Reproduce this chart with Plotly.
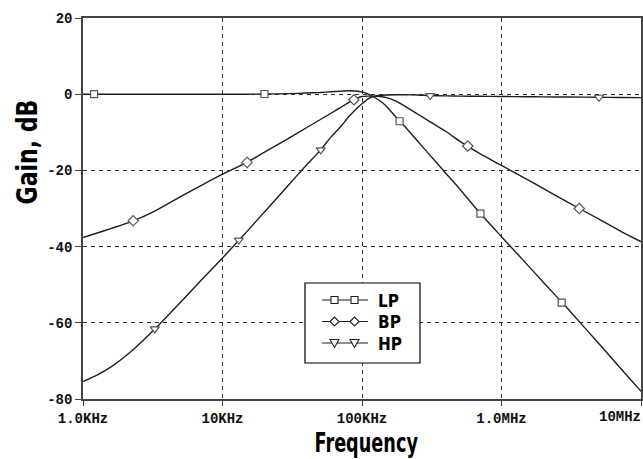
import plotly.graph_objects as go

# ---------------- data ----------------
freq_hz = [1e3, 1.25e3, 1.6e3, 2.2e3, 3.3e3, 5e3, 7e3, 1e4, 1.5e4, 2e4, 3e4, 4e4,
           5e4, 6e4, 7e4, 8e4, 9e4, 1e5, 1.1e5, 1.2e5, 1.35e5, 1.5e5, 1.75e5, 2e5,
           2.5e5, 3e5, 4e5, 5e5, 7e5, 1e6, 1.5e6, 2e6, 3e6, 5e6, 7e6, 1e7]
lp_db = [0, 0, 0, 0, 0, 0, 0, 0, 0, 0.05, 0.15, 0.3,
         0.45, 0.65, 0.8, 0.9, 0.85, 0.6, 0.1, -0.6, -1.8, -3.2, -6.0, -8.2,
         -12.3, -15.6, -20.8, -24.8, -31.2, -37.4, -44.4, -49.4, -56.4, -65.5, -71.6, -78.0]
bp_db = [-37.6, -36.5, -35.2, -33.5, -30.6, -26.9, -24.0, -21.0, -17.9, -15.2, -11.5, -8.8,
         -6.7, -5.0, -3.5, -2.2, -1.2, -0.6, -0.5, -0.5, -0.6, -0.9, -1.8, -3.0,
         -5.2, -7.0, -9.8, -12.3, -15.6, -18.7, -22.2, -24.8, -28.4, -32.8, -35.8, -38.7]
hp_db = [-75.4, -73.8, -71.5, -67.6, -61.5, -54.6, -48.9, -43.0, -36.0, -30.9, -23.7, -18.6,
         -14.8, -11.2, -8.6, -6.0, -4.0, -2.5, -1.3, -0.6, -0.3, -0.2, -0.15, -0.15,
         -0.2, -0.35, -0.45, -0.5, -0.55, -0.6, -0.65, -0.7, -0.75, -0.8, -0.85, -0.9]

lp_mark_hz = [1.2e3, 2.0e4, 1.86e5, 7.06e5, 2.7e6]
lp_mark_db = [0, 0.05, -7.1, -31.35, -54.7]
bp_mark_hz = [2.29e3, 1.5e4, 8.75e4, 5.73e5, 3.61e6]
bp_mark_db = [-33.2, -17.9, -1.45, -13.6, -30.0]
hp_mark_hz = [3.27e3, 1.31e4, 5.06e4, 3.08e5, 5.0e6]
hp_mark_db = [-61.6, -38.3, -14.6, -0.35, -0.8]

series_names = ["LP", "BP", "HP"]
x_tick_vals = [1e3, 1e4, 1e5, 1e6, 1e7]
x_tick_text = ["1.0KHz", "10KHz", "100KHz", "1.0MHz", "10MHz"]
y_tick_vals = [20, 0, -20, -40, -60, -80]
y_tick_text = ["20", "0", "-20", "-40", "-60", "-80"]

# ---------------- figure ----------------
W, H = 643, 459
ML, MR, MT, MB = 83, 2, 18, 60
PW, PH = W - ML - MR, H - MT - MB


def px_x(x):
    return (x - ML) / PW


def px_y(y):
    return (H - MB - y) / PH


LINE_C = "#1e1e1e"
MARK_C = "#555555"
AX_C = "#444444"
TICK_FONT = dict(family="Liberation Mono, DejaVu Sans Mono, monospace", size=14,
                 color="#111111", weight="bold")
TITLE_FAMILY = "DejaVu Sans, sans-serif"

fig = go.Figure()
curves = [(lp_db, lp_mark_hz, lp_mark_db, "square"),
          (bp_db, bp_mark_hz, bp_mark_db, "diamond"),
          (hp_db, hp_mark_hz, hp_mark_db, "triangle-down")]
for name, (vals, mh, md, sym) in zip(series_names, curves):
    fig.add_trace(go.Scatter(x=freq_hz, y=vals, mode="lines", name=name,
                             line=dict(color=LINE_C, width=1.4, shape="spline", smoothing=0.5),
                             showlegend=False, hoverinfo="skip"))
for name, (vals, mh, md, sym) in zip(series_names, curves):
    fig.add_trace(go.Scatter(x=mh, y=md, mode="markers", name=name, showlegend=False,
                             marker=dict(symbol=sym, size=8 if sym != "square" else 7,
                                         color="white",
                                         line=dict(color=MARK_C, width=1.2))))

fig.update_xaxes(type="log", range=[3, 7], tickvals=x_tick_vals,
                 ticktext=x_tick_text[:-1] + [""],
                 tickfont=TICK_FONT, ticks="outside", ticklen=5, tickcolor=AX_C,
                 showline=True, mirror=True, linecolor=AX_C, linewidth=1.5,
                 showgrid=True, gridcolor="#333333", gridwidth=1, griddash="4px,4px",
                 zeroline=False)
fig.update_yaxes(range=[-80, 20], tickvals=y_tick_vals, ticktext=y_tick_text,
                 tickfont=TICK_FONT, ticks="outside", ticklen=6, tickcolor=AX_C,
                 showline=True, mirror=True, linecolor=AX_C, linewidth=1.5,
                 showgrid=True, gridcolor="#333333", gridwidth=1, griddash="4px,4px",
                 zeroline=False)

annotations = [
    dict(text="10MHz", x=1.0 + 1.5 / PW, y=px_y(417), xref="paper", yref="paper",
         xanchor="right", yanchor="middle", showarrow=False, font=TICK_FONT),
    dict(text="Frequency", x=px_x(366), y=px_y(443), xref="paper", yref="paper",
         xanchor="center", yanchor="middle", showarrow=False,
         font=dict(family=TITLE_FAMILY, size=26, color="black", weight="bold")),
    dict(text="Gain, dB", x=px_x(27), y=px_y(152), xref="paper", yref="paper",
         xanchor="center", yanchor="middle", showarrow=False, textangle=-90,
         font=dict(family=TITLE_FAMILY, size=29, color="black", weight="bold")),
]

# ---------------- legend (drawn by hand) ----------------
shapes = [dict(type="rect", xref="paper", yref="paper",
               x0=px_x(305), x1=px_x(420), y0=px_y(363), y1=px_y(283),
               line=dict(color="black", width=1.2), fillcolor="white", layer="above")]
legend_rows = [300, 321.5, 343]
sym_paths = {
    "square": "M-3.5,-3.5 L3.5,-3.5 L3.5,3.5 L-3.5,3.5 Z",
    "diamond": "M-4.5,0 L0,4.5 L4.5,0 L0,-4.5 Z",
    "triangle-down": "M-4.5,3.5 L4.5,3.5 L0,-4.5 Z",
}
for name, (vals, mh, md, sym), ry in zip(series_names, curves, legend_rows):
    shapes.append(dict(type="line", xref="paper", yref="paper",
                       x0=px_x(322), x1=px_x(368), y0=px_y(ry), y1=px_y(ry),
                       line=dict(color=LINE_C, width=1.2), layer="above"))
    for mx in (334.5, 354.5):
        shapes.append(dict(type="path", xref="paper", yref="paper",
                           xsizemode="pixel", ysizemode="pixel",
                           xanchor=px_x(mx), yanchor=px_y(ry), path=sym_paths[sym],
                           line=dict(color=LINE_C, width=1.1), fillcolor="white",
                           layer="above"))
    annotations.append(dict(text=name, x=px_x(376), y=px_y(ry),
                            xref="paper", yref="paper", xanchor="left", yanchor="middle",
                            showarrow=False,
                            font=dict(family=TITLE_FAMILY, size=18, color="black",
                                      weight="bold")))

fig.update_layout(width=W, height=H,
                  margin=dict(l=ML, r=MR, t=MT, b=MB, autoexpand=False),
                  paper_bgcolor="white", plot_bgcolor="white",
                  showlegend=False, annotations=annotations, shapes=shapes)

# remove the page's default body margin and condense the bold title/legend texts
post_js = """
document.body.style.margin = '0px';
var gd = document.getElementById('{plot_id}');
var cfg = {'Frequency': [0.68, 'center'], 'Gain, dB': [0.76, 'center'],
           'LP': [0.85, 'left'], 'BP': [0.85, 'left'], 'HP': [0.85, 'left']};
gd.querySelectorAll('text.annotation-text').forEach(function (t) {
  var c = cfg[t.textContent];
  if (c) {
    t.style.transformBox = 'fill-box';
    t.style.transformOrigin = c[1] + ' center';
    t.style.transform = 'scaleX(' + c[0] + ')';
  }
});
"""

fig.write_html("out.html", post_script=post_js, config={"displayModeBar": False})
